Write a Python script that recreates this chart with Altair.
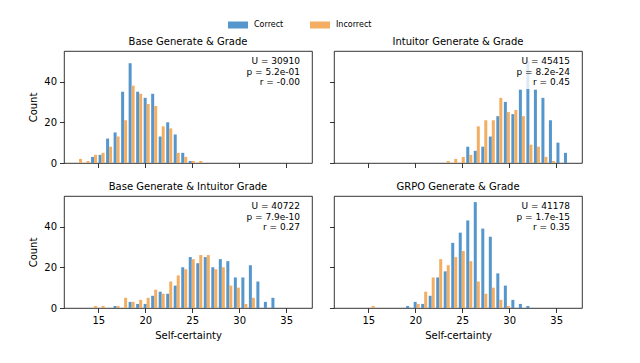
import altair as alt
import pandas as pd

# ---------------- data ----------------
FIRST_EDGE = 12.55
BIN_WIDTH = 0.8
N_BINS = 30

panels = [
    "Base Generate & Grade",
    "Intuitor Generate & Grade",
    "Base Generate & Intuitor Grade",
    "GRPO Generate & Grade",
]
groups = ["Correct", "Incorrect"]
colors = ["#5596cc", "#f3ae62"]

correct_counts = {
    "Base Generate & Grade":
        [0, 0, 3, 4, 12, 15, 35, 49, 35, 32, 34, 13, 20, 14, 5, 1, 0, 0, 0, 0, 0, 0, 0, 0, 0, 0, 0, 0, 0, 0],
    "Intuitor Generate & Grade":
        [0, 0, 0, 0, 0, 0, 0, 0, 0, 0, 0, 0, 0, 0, 0, 0, 8, 6, 8, 13, 23, 30, 24, 36, 50, 36, 32, 21, 10, 5],
    "Base Generate & Intuitor Grade":
        [0, 0, 0, 0, 0, 1, 0, 3, 2, 2, 6, 8, 7, 11, 20, 25, 22, 25, 20, 24, 23, 15, 15, 21, 13, 3, 5, 0, 0, 0],
    "GRPO Generate & Grade":
        [0, 0, 0, 0, 0, 0, 0, 0, 1, 3, 2, 6, 15, 18, 32, 37, 43, 52, 39, 35, 17, 11, 4, 2, 1, 0, 0, 0, 0, 0],
}
incorrect_counts = {
    "Base Generate & Grade":
        [2, 1, 4, 5, 8, 13, 21, 38, 34, 29, 28, 18, 17, 5, 3, 1, 1, 0, 0, 0, 0, 0, 0, 0, 0, 0, 0, 0, 0, 0],
    "Intuitor Generate & Grade":
        [0, 0, 0, 0, 0, 0, 0, 0, 0, 0, 0, 0, 0, 1, 2, 3, 4, 18, 21, 21, 32, 25, 26, 23, 9, 8, 3, 1, 0, 0],
    "Base Generate & Intuitor Grade":
        [0, 0, 1, 1, 0, 1, 5, 3, 4, 5, 9, 7, 13, 16, 19, 24, 26, 26, 19, 20, 11, 10, 2, 5, 0, 0, 0, 0, 0, 0],
    "GRPO Generate & Grade":
        [0, 0, 0, 1, 0, 0, 0, 0, 0, 2, 8, 15, 24, 21, 25, 28, 23, 13, 7, 10, 4, 1, 0, 0, 0, 0, 0, 0, 0, 0],
}

u_values = ["30910", "45415", "40722", "41178"]
p_values = ["5.2e-01", "8.2e-24", "7.9e-10", "1.7e-15"]
r_values = ["-0.00", "0.45", "0.27", "0.35"]

x_ticks = [15, 20, 25, 30, 35]
y_ticks = [0, 20, 40]
x_domain = [11.35, 37.75]
y_domain = [0, 55]

# ---------------- tables ----------------
rows = []
for p in panels:
    for g, counts in (("Correct", correct_counts[p]), ("Incorrect", incorrect_counts[p])):
        for i, c in enumerate(counts):
            if c > 0:
                rows.append({"panel": p, "bin": i, "group": g, "count": c})
bars_df = pd.DataFrame(rows)

FONT = "DejaVu Sans"
W, H = 248, 112


def make_panel(idx, show_x, show_y):
    name = panels[idx]
    sub = bars_df[bars_df["panel"] == name]
    x_axis = alt.Axis(values=x_ticks, labels=show_x, grid=False, tickSize=4.5,
                      title="Self-certainty" if show_x else None)
    y_axis = alt.Axis(values=y_ticks, labels=show_y, grid=False, tickSize=4.5,
                      title="Count" if show_y else None)
    bars = (
        alt.Chart(sub)
        .transform_calculate(
            edge=f"{FIRST_EDGE} + {BIN_WIDTH} * datum.bin",
            base="0",
        )
        .transform_calculate(
            x0=f"datum.edge + (datum.group == 'Correct' ? 0.1 : 0.5) * {BIN_WIDTH}",
        )
        .transform_calculate(
            x1=f"datum.x0 + 0.4 * {BIN_WIDTH}",
        )
        .mark_rect(strokeWidth=0, opacity=1)
        .encode(
            x=alt.X("x0:Q", scale=alt.Scale(domain=x_domain, nice=False, zero=False), axis=x_axis),
            x2="x1:Q",
            y=alt.Y("count:Q", scale=alt.Scale(domain=y_domain, nice=False), axis=y_axis),
            y2="base:Q",
            color=alt.Color(
                "group:N",
                scale=alt.Scale(domain=groups, range=colors),
                legend=alt.Legend(
                    orient="none", legendX=164, legendY=-36, direction="horizontal",
                    title=None, labelFontSize=8, labelFont=FONT,
                    symbolType="M-1,-0.35H1V0.35H-1Z", symbolSize=400,
                    symbolStrokeWidth=0, columnPadding=26, labelOffset=6,
                ),
            ),
        )
    )
    stat_df = pd.DataFrame({
        "label": [f"U = {u_values[idx]}\np = {p_values[idx]}\nr = {r_values[idx]}"]
    })
    # semi-transparent white box behind the statistics (like a matplotlib text bbox)
    box = (
        alt.Chart(stat_df)
        .mark_rect(fill="white", opacity=0.8, strokeWidth=0)
        .encode(x=alt.value(W - 64), x2=alt.value(W - 8), y=alt.value(4), y2=alt.value(38))
    )
    stats = (
        alt.Chart(stat_df)
        .mark_text(align="right", baseline="top", lineBreak="\n", lineHeight=10.5,
                   fontSize=9, font=FONT, color="black")
        .encode(text="label:N", x=alt.value(W - 12), y=alt.value(6))
    )
    return alt.layer(bars, box, stats).properties(
        width=W, height=H,
        title=alt.TitleParams(name, fontSize=10, font=FONT, fontWeight="normal",
                              offset=4, color="black"),
    )


row1 = alt.hconcat(make_panel(0, False, True), make_panel(1, False, False), spacing=15)
row2 = alt.hconcat(make_panel(2, True, True), make_panel(3, True, False), spacing=15)

chart = (
    alt.vconcat(row1, row2, spacing=12)
    .properties(padding={"left": 20, "top": 7, "right": 5, "bottom": 5})
    .configure_view(stroke="black", strokeWidth=0.8)
    .configure_axis(
        domain=False, tickColor="black", tickWidth=0.8,
        labelFont=FONT, titleFont=FONT, labelFontSize=10, titleFontSize=10,
        labelColor="black", titleColor="black", titleFontWeight="normal",
        labelPadding=3, titlePadding=5,
    )
    .configure_legend(labelColor="black")
)

chart.save("out.html", embed_options={"renderer": "svg", "actions": False})
